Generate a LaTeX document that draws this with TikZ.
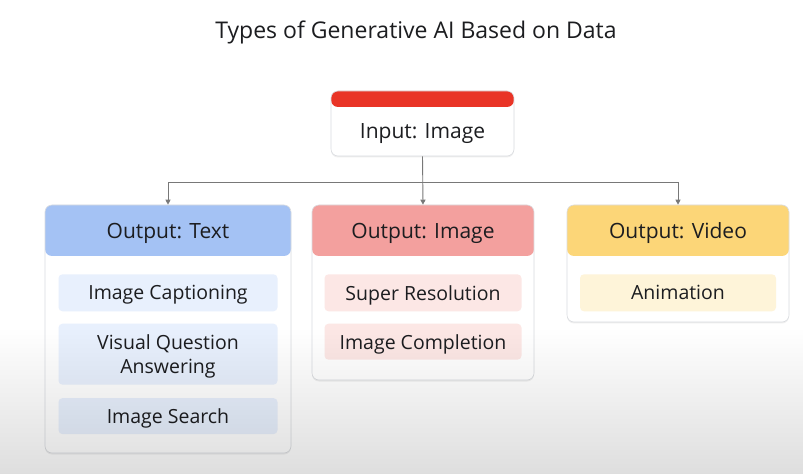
\documentclass[tikz,border=0pt]{standalone}
\usepackage{fontspec}
\setmainfont{Open Sans}
\usetikzlibrary{positioning,arrows.meta,shadows,fadings}

\definecolor{inkgray}{RGB}{28,29,32}
\definecolor{cardline}{RGB}{218,220,224}
\definecolor{linkgray}{RGB}{120,120,120}
\definecolor{inred}{RGB}{233,52,38}
\definecolor{headblue}{RGB}{164,194,244}
\definecolor{headpink}{RGB}{243,160,158}
\definecolor{headyellow}{RGB}{252,214,120}
\definecolor{itemblue}{RGB}{232,240,253}
\definecolor{itempink}{RGB}{252,231,229}
\definecolor{itemyellow}{RGB}{254,244,217}

\tikzfading[name=slidefade, top color=transparent!100, bottom color=transparent!0]

\tikzset{
    card/.style 2 args={rectangle, rounded corners=7pt, draw=cardline, line width=0.6pt,
        fill=white, inner sep=0pt,
        drop shadow={opacity=0.12, shadow xshift=0pt, shadow yshift=-1.5pt},
        path picture={\fill[#1] (path picture bounding box.north west)
            rectangle ([yshift=-#2]path picture bounding box.north east);}},
    head/.style={minimum height=51pt, inner sep=0pt, text depth=0pt, text=inkgray, font=\fontsize{21}{25}\selectfont},
    item/.style={rectangle, rounded corners=4pt, inner sep=0pt, minimum height=37pt, text depth=0pt,
        align=center, text=inkgray, font=\fontsize{19.5}{24.5}\selectfont},
    link/.style={draw=linkgray, line width=0.9pt},
    tip/.style={-{Triangle[width=5pt,length=5pt]}}
}

\begin{document}
\begin{tikzpicture}[x=1pt,y=1pt]

    \fill[white] (0,0) rectangle (805,474);
    \useasboundingbox (0,0) rectangle (805,474);

    % Title
    \node[text=inkgray, font=\fontsize{23}{27}\selectfont] (title) at (416,442) {Types of Generative AI Based on Data};

    %-----Cards-----
    % Input Card
    \node[card={inred}{16pt}, minimum width=183pt, minimum height=65pt] (input) at (422.5,350.5) {};
    \node[text=inkgray, text depth=0pt, font=\fontsize{21}{25}\selectfont] (inputtxt) at (422.5,343) {Input: Image};

    % Text Output Card
    \node[card={headblue}{51pt}, minimum width=246pt, minimum height=248pt] (textcard) at (168,145) {};
    \node[head, anchor=north] (texthead) at (textcard.north) {Output: Text};

    \node[item, fill=itemblue, minimum width=219pt, below=18pt of texthead] (caption) {Image Captioning};
    \node[item, fill=itemblue, minimum width=219pt, minimum height=61pt, below=12pt of caption] (vqa) {Visual Question\\Answering};
    \node[item, fill=itemblue, minimum width=219pt, minimum height=36pt, below=13pt of vqa] (search) {Image Search};

    % Image Output Card
    \node[card={headpink}{51pt}, minimum width=222pt, minimum height=175pt] (imagecard) at (423,181.5) {};
    \node[head, anchor=north] (imagehead) at (imagecard.north) {Output: Image};

    \node[item, fill=itempink, minimum width=197pt, below=18pt of imagehead] (superres) {Super Resolution};
    \node[item, fill=itempink, minimum width=197pt, minimum height=36pt, below=12pt of superres] (complete) {Image Completion};

    % Video Output Card
    \node[card={headyellow}{51pt}, minimum width=222pt, minimum height=117pt] (videocard) at (678,210.5) {};
    \node[head, anchor=north] (videohead) at (videocard.north) {Output: Video};

    \node[item, fill=itemyellow, minimum width=196pt, below=18pt of videohead] (anim) {Animation};

    %-----Connectors-----
    \coordinate (split) at (422.5,292);
    \draw[link, tip] (input.south) -- (imagecard.north);
    \draw[link, tip] (split) -| (textcard.north);
    \draw[link, tip] (split) -| (videocard.north);

    % shading at the foot of the slide
    \fill[black, opacity=0.13, path fading=slidefade] (0,0) rectangle (805,146);

\end{tikzpicture}
\end{document}
